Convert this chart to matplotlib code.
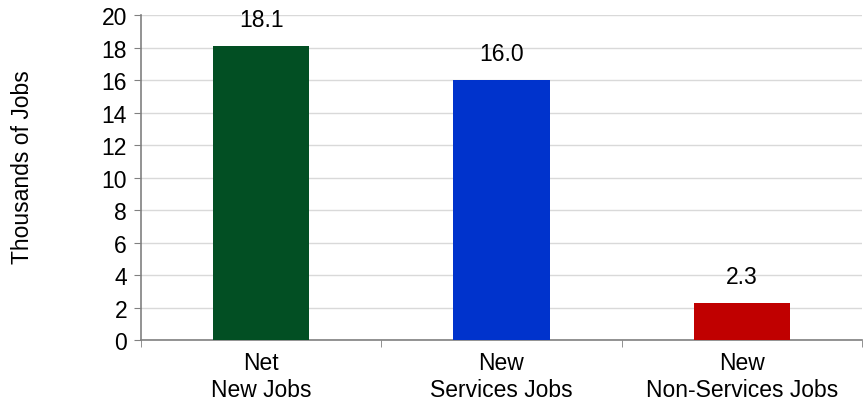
import numpy as np
import matplotlib.pyplot as plt

plt.rcParams['font.family'] = ['Liberation Sans', 'DejaVu Sans']

# data
categories = ['Net\nNew Jobs', 'New\nServices Jobs', 'New\nNon-Services Jobs']
values = [18.1, 16.0, 2.3]
colors = ['#024F23', '#0033CC', '#C00000']

fig = plt.figure(figsize=(8.67, 4.06), dpi=100)
ax = fig.add_axes([0.1626, 0.160, 0.8316, 0.8006])

x = np.arange(len(categories))
bars = ax.bar(x, values, width=0.4, color=colors, zorder=3)

for xi, v in zip(x, values):
    ax.text(xi, v + 0.9, f'{v:.1f}', ha='center', va='bottom', fontsize=16.5)

ax.set_xlim(-0.5, len(categories) - 0.5)
ax.set_ylim(0, 20)
ax.set_yticks(np.arange(0, 21, 2))
ax.tick_params(axis='y', labelsize=16.5, length=5, color='#808080', pad=5)
ax.yaxis.grid(True, color='#D9D9D9', linewidth=1, zorder=0)

# category labels centred, tick marks at the boundaries
ax.set_xticks(x)
ax.set_xticklabels(categories, fontsize=16.5)
ax.tick_params(axis='x', which='major', length=0, pad=8)
ax.set_xticks(np.arange(-0.5, len(categories)), minor=True)
ax.tick_params(axis='x', which='minor', length=5, color='#808080')

for s in ['top', 'right']:
    ax.spines[s].set_visible(False)
for s in ['left', 'bottom']:
    ax.spines[s].set_color('#808080')
    ax.spines[s].set_linewidth(1.2)

ax.set_ylabel('Thousands of Jobs', fontsize=16.5)
ax.yaxis.set_label_coords(-0.148, 0.535)

fig.savefig('out.png', dpi=100)
